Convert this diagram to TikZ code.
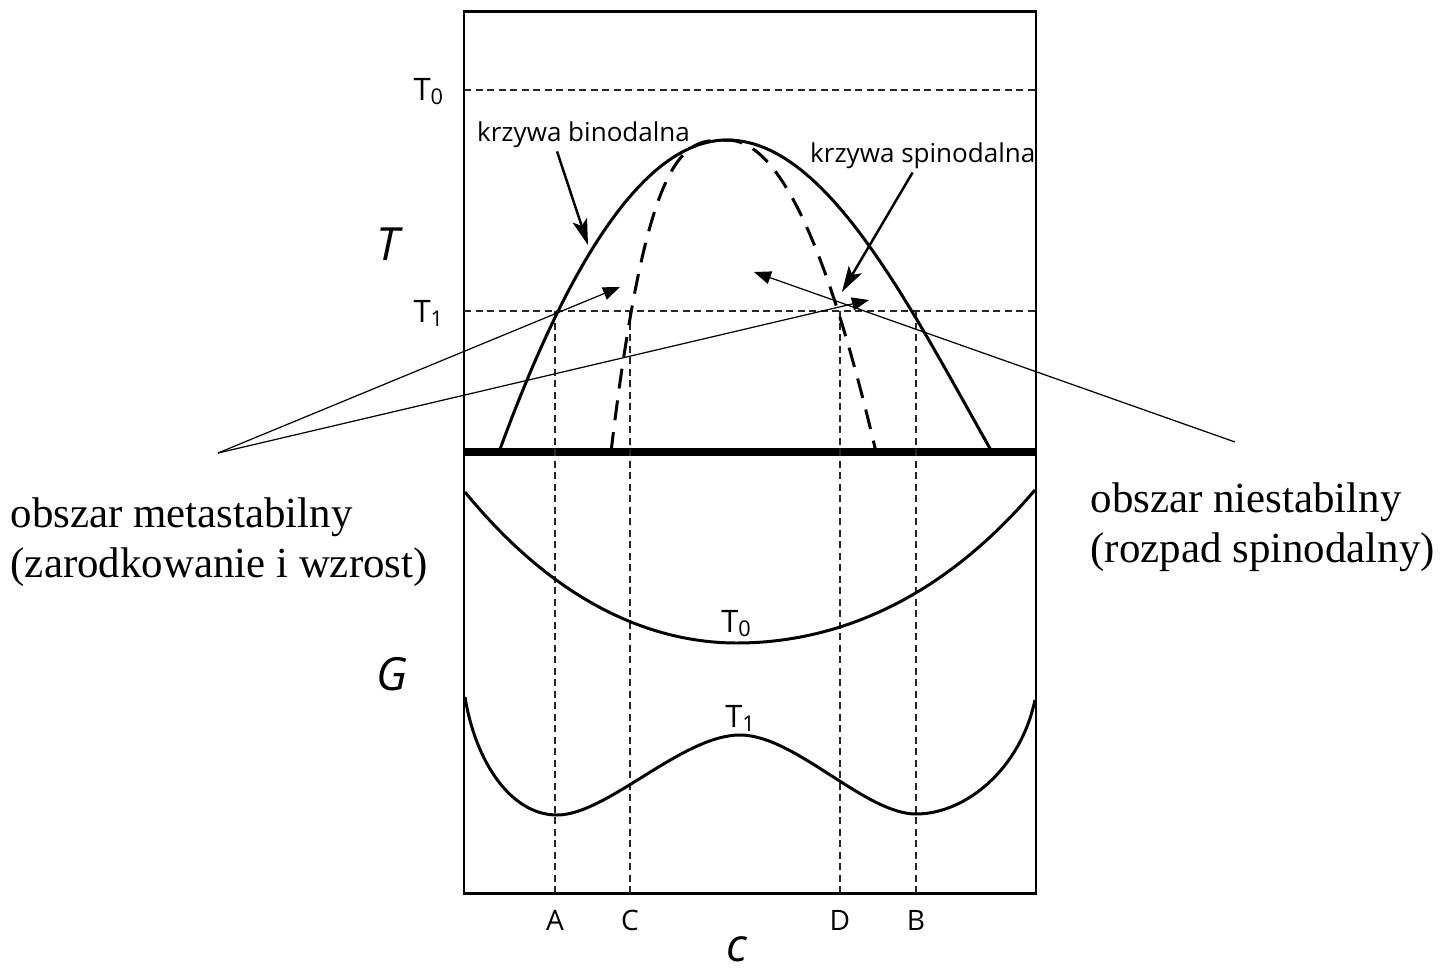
\documentclass[tikz,border=0pt]{standalone}
\usepackage{fontspec}
\setmainfont{Liberation Serif}
\newfontfamily\labelfont{Open Sans}
\usetikzlibrary{arrows.meta}
\tikzset{
  plotframe/.style={line width=0.85pt},
  axisline/.style={line width=2pt},
  curve/.style={line width=0.85pt},
  spinodal/.style={curve, dash pattern=on 0.2cm off 0.12cm},
  guide/.style={line width=0.45pt, black!85, dash pattern=on 0.07cm off 0.045cm},
  lbl/.style={font={\labelfont\fontsize{8}{9.6}\selectfont}, inner sep=1pt},
  curvelbl/.style={font={\labelfont\fontsize{7.4}{9}\selectfont}, inner sep=1pt},
  templbl/.style={font={\labelfont\fontsize{8.8}{10}\selectfont}, inner sep=1pt},
  axislbl/.style={font={\labelfont\itshape\fontsize{13}{15}\selectfont}, inner sep=0pt},
  region/.style={font={\fontsize{12.2}{14.2}\selectfont}, align=left, inner sep=0pt},
  callout/.style={-{Stealth[length=0.26cm,width=0.15cm,inset=0.06cm]}, line width=0.7pt},
  pointer/.style={-{Triangle[length=0.17cm,width=0.13cm]}, line width=0.35pt}
}

\begin{document}
\begin{tikzpicture}[x=0.01cm, y=-0.01cm,
    declare function={
      binod(\u)=(\u<0)*60*\u*\u+(\u>=0)*(55.56*\u*\u-1.585*\u*\u*\u*\u);
      gzero(\u)=(\u<0)*(18.38*\u*\u+0.2736*\u*\u*\u*\u)+(\u>=0)*(14.79*\u*\u+0.275*\u*\u*\u*\u);
    }]
  \useasboundingbox (0,0) rectangle (1441,972);
  % frame and the line between the two panels
  \draw[plotframe] (464,11) rectangle (1036,893);
  \draw[axisline] (464,452) -- (1036,452);
  % T0, T1 and A C D B guides
  \draw[guide] (464,90) -- (1036,90);
  \draw[guide] (464,311) -- (1036,311);
  \foreach \x in {555,630,840,916}
    \draw[guide] (\x,311) -- (\x,893);
  % binodal and spinodal
  \draw[curve] plot[domain=-2.28:2.65, samples=120] ({727+100*\x},{140+binod(\x)});
  \draw[spinodal] plot[domain=1:0.02, samples=70] ({727-116*\x},{140+312*\x^3.125})
    -- plot[domain=0.02:1, samples=70] ({727+149*\x},{140+312*\x^2.04});
  % G at T0 and T1
  \draw[curve] plot[domain=-2.72:2.98, samples=100] ({737+100*\x},{643-gzero(\x)});
  \draw[curve] (465,697) .. controls (475,760) and (510,815) .. (557,815)
    .. controls (607,815) and (682,735) .. (740,735)
    .. controls (795,735) and (865,814) .. (916,814)
    .. controls (965,814) and (1020,770) .. (1035,700);

  % labels
  \node[templbl, anchor=base east] (T0lbl) at (449,100) {T\textsubscript{0}};
  \node[templbl, anchor=base east] (T1lbl) at (449,322) {T\textsubscript{1}};
  \node[axislbl, anchor=base] (Tlbl) at (388,260) {T};
  \node[axislbl, anchor=base] (Glbl) at (392,690) {G};
  \node[axislbl, anchor=base] (clbl) at (737,961) {c};
  \node[templbl, anchor=base] (G0lbl) at (737,632) {T\textsubscript{0}};
  \node[templbl, anchor=base] (G1lbl) at (741,727) {T\textsubscript{1}};
  \node[lbl, anchor=base] (Albl) at (555,930) {A};
  \node[lbl, anchor=base] (Clbl) at (630,930) {C};
  \node[lbl, anchor=base] (Dlbl) at (840,930) {D};
  \node[lbl, anchor=base] (Blbl) at (916,930) {B};
  \node[curvelbl, anchor=base west] (binlbl) at (473,141) {krzywa binodalna};
  \node[curvelbl, anchor=base west] (spinlbl) at (806,162) {krzywa spinodalna};
  \node[region, anchor=west] (meta) at (10,542)
    {obszar metastabilny\\(zarodkowanie i wzrost)};
  \node[region, anchor=west] (unstable) at (1090,527)
    {obszar niestabilny\\(rozpad spinodalny)};

  % arrows
  \coordinate (bintip) at (588,245);
  \coordinate (spintip) at (842,292);
  \coordinate (metaroot) at (218,453);
  \coordinate (metatipA) at (620,287);
  \coordinate (metatipB) at (869,300);
  \coordinate (unstroot) at (1235,442);
  \coordinate (unsttip) at (754,272);
  \draw[callout] ([xshift=0.84cm]binlbl.south west) -- (bintip);
  \draw[callout] (spinlbl) -- (spintip);
  \draw[pointer] (metaroot) -- (metatipA);
  \draw[pointer] (metaroot) -- (metatipB);
  \draw[pointer] (unstroot) -- (unsttip);
\end{tikzpicture}
\end{document}
